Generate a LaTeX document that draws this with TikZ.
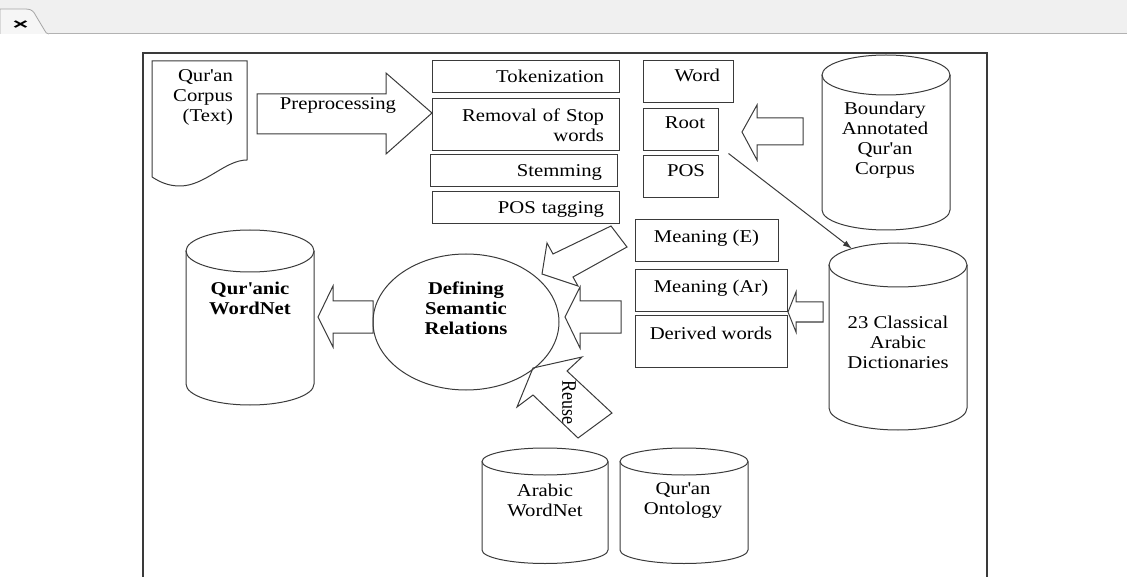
\documentclass[tikz,border=0pt]{standalone}
\usepackage{fontspec}
\setmainfont{Liberation Serif}[FakeStretch=1.15]
\newfontfamily\uprightserif{Liberation Serif}
\newfontfamily\tabfont{Liberation Sans}
\usetikzlibrary{
    positioning,
    shapes.geometric,
    arrows.meta
    }
\newcommand{\apos}{\textquotesingle}
\definecolor{linec}{HTML}{3A3A3A}
\definecolor{barc}{HTML}{F0F0F0}
\definecolor{tabc}{HTML}{F6F6F6}

\tikzset{boxline/.style =
        {
            rectangle,
            draw=linec,
            line width=1pt,
            inner ysep=0pt
        }
}

\tikzset{stepbox/.style =
        {
            boxline,
            inner xsep=15pt,
            align=right
        }
}

\tikzset{oneline/.style = {text height=12pt, text depth=#1}, oneline/.default=0pt}

\tikzset{fatarrow/.style =
        {
            draw=linec,
            line width=1pt,
            line join=miter
        }
}

\tikzset{link/.style =
        {
            draw=linec,
            line width=1pt,
            -{Latex[length=9pt, width=6pt]}
        }
}

\tikzset{dbtext/.style = {align=center, inner sep=0pt}}

\tikzset{pics/store/.style n args = {3}{
        code = {
                \draw [linec, line width=1pt] (-#1,0) -- (-#1,#3) arc [start angle=180, end angle=360, x radius=#1pt, y radius=#2pt] -- (#1,0);
                \draw [linec, line width=1pt] (0,0) ellipse [x radius=#1pt, y radius=#2pt];
                \coordinate (-ul) at (132:#1pt and #2pt);
            }
    }
}

\begin{document}
\begin{tikzpicture}[x=1pt, y=-1pt, font=\fontsize{18}{20}\selectfont]
		\useasboundingbox (0,0) rectangle (1127,577);

		% window tab
		\fill[barc] (0,0) rectangle (1127,34);
		\filldraw[fill=tabc, draw=gray!70, line width=0.8pt] (0,34) -- (0,9) -- (26,9) .. controls (32,9) and (34,12) .. (36,16) -- (45,31) .. controls (46,33) .. (49,34);
		\draw[gray!60, line width=1pt] (49,34) -- (1127,34);
		\node[inner sep=0pt] (closeicon) at (20.5,25.5) {\scalebox{2.1}[1.15]{\tabfont\bfseries\fontsize{13}{13}\selectfont ×}};

		% frame
		\draw[linec, line width=1.6pt] (143,580) -- (143,53) -- (987,53) -- (987,580);

		% input document
		\draw[linec, line width=1pt] (152,177) -- (152,61) -- (247,61) -- (247,160) .. controls (225,160) and (205,186) .. (180,186) .. controls (168,186) and (160,182) .. (152,177);
		\node[align=right, text width=62pt, inner sep=0pt] (corpus) at (202,97) {Qur\apos an\\Corpus\\(Text)};

		\draw[fatarrow] (257,94) -- (386,94) -- (386,73) -- (432,113) -- (386,154) -- (386,134) -- (257,134) -- cycle;
		\node[inner sep=0pt] (preptext) at (338,105) {Preprocessing};

		% preprocessing steps
		\node[stepbox, oneline, text width=157pt, minimum height=32pt] (tok) at (525.5,77) {Tokenization};
		\node[stepbox, text width=157pt, minimum height=52pt] (stop) at (525.5,125) {Removal of Stop\\words};
		\node[stepbox, oneline, text width=157pt, minimum height=32pt] (stem) at (523.5,171) {Stemming};
		\node[stepbox, oneline, text width=157pt, minimum height=32pt] (postag) at (525.5,208) {POS tagging};

		% corpus features
		\node[stepbox, oneline=12pt, inner xsep=13pt, text width=64pt, minimum height=42pt] (word) at (688,82) {Word};
		\node[stepbox, oneline=14pt, inner xsep=13pt, text width=49pt, minimum height=42pt] (root) at (680.5,130) {Root};
		\node[stepbox, oneline=12pt, inner xsep=13pt, text width=49pt, minimum height=42pt] (pos) at (680.5,177) {POS};

		% dictionary features
		\node[boxline, oneline=8pt, minimum width=143pt, minimum height=42pt] (meaninge) at (706.5,241) {Meaning (E)};
		\node[boxline, oneline=8pt, minimum width=152pt, minimum height=42pt] (meaningar) at (711,291) {Meaning (Ar)};
		\node[boxline, oneline=17pt, minimum width=152pt, minimum height=51pt] (derived) at (711,341.5) {Derived words};

		% resources
		\pic (bac) at (886,75) {store={64}{20}{135}};
		\node[dbtext] (bactext) at (885,140) {Boundary\\Annotated\\Qur\apos an\\Corpus};
		\pic (dict) at (898,265) {store={69}{22}{143}};
		\node[dbtext] (dicttext) at (898,342) {23 Classical\\Arabic\\Dictionaries};
		\pic (qwn) at (250,251) {store={64}{21}{133}};
		\node[dbtext, font=\fontsize{18}{20}\selectfont\bfseries] (qwntext) at (250,298) {Qur\apos anic\\WordNet};
		\pic (awn) at (545,461.5) {store={63}{13.5}{88.5}};
		\node[dbtext] (awntext) at (545,500) {Arabic\\WordNet};
		\pic (qo) at (684,461.5) {store={64}{13.5}{88.5}};
		\node[dbtext] (qotext) at (683,500) {Qur\apos an\\Ontology};

		% semantic relations
		\node[ellipse, draw=linec, line width=1pt, minimum width=186pt, minimum height=136pt, inner sep=0pt] (dsr) at (466,322) {};
		\node[dbtext, font=\fontsize{18}{20}\selectfont\bfseries] (dsrtext) at (466,308) {Defining\\Semantic\\Relations};

		\draw[link] ([xshift=10pt, yshift=-2pt]root.south east) -- (dict-ul);

		\draw[fatarrow] (803,118) -- (757,118) -- (757,105) -- (742,132) -- (757,160) -- (757,145) -- (803,145) -- cycle;
		\draw[fatarrow] (823,302) -- (796,302) -- (796,292) -- (788,312) -- (796,332) -- (796,322) -- (823,322) -- cycle;
		\draw[fatarrow] (621,301) -- (580,301) -- (580,287) -- (565,317) -- (580,348) -- (580,333) -- (621,333) -- cycle;
		\draw[fatarrow] (373,301) -- (333,301) -- (333,286) -- (318,317) -- (333,347) -- (333,333) -- (373,333) -- cycle;
		\draw[fatarrow] (611,226) -- (553,254) -- (547,243) -- (542,274) -- (578,286) -- (573,277) -- (627,247) -- cycle;
		\draw[fatarrow] (533,368) -- (582,357) -- (567,371) -- (612,413) -- (578,438) -- (533,395) -- (517,407) -- cycle;
		\node[rotate=-90, inner sep=0pt] (reusetext) at (569,402) {\uprightserif\scalebox{1}[1.15]{Reuse}};

	\end{tikzpicture}
\end{document}
